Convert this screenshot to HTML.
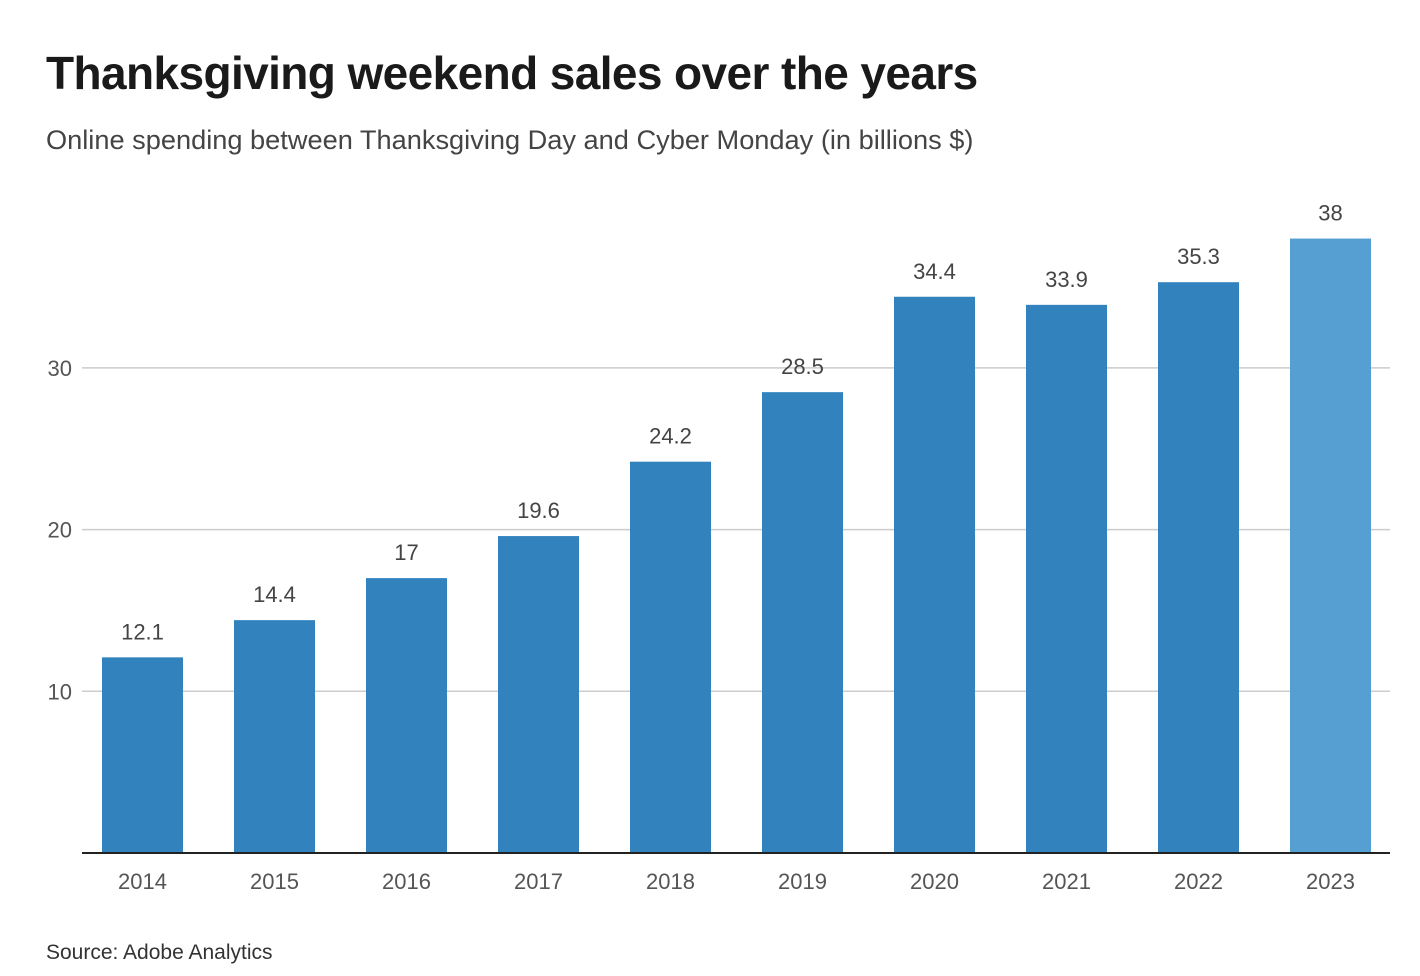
<!DOCTYPE html>
<html><head><meta charset="utf-8"><style>
body{margin:0;background:#fff;width:1420px;height:976px;overflow:hidden;font-family:"Liberation Sans",sans-serif}
#title{position:absolute;left:46px;top:46px;font-size:46px;font-weight:bold;color:#1a1a1a;letter-spacing:-0.6px}
#sub{position:absolute;left:46px;top:124px;font-size:27.2px;color:#444}
#src{position:absolute;left:46px;top:941px;font-size:21px;color:#333}
svg{position:absolute;left:0;top:0}
</style></head><body>
<div id="title">Thanksgiving weekend sales over the years</div>
<div id="sub">Online spending between Thanksgiving Day and Cyber Monday (in billions $)</div>
<div id="src">Source: Adobe Analytics</div>
<svg id="chart" width="1420" height="976"></svg>
<script>
const categories=["2014","2015","2016","2017","2018","2019","2020","2021","2022","2023"];
const values=[12.1,14.4,17,19.6,24.2,28.5,34.4,33.9,35.3,38];
const labels=["12.1","14.4","17","19.6","24.2","28.5","34.4","33.9","35.3","38"];
const yTicks=[10,20,30];
const NS="http://www.w3.org/2000/svg";
const svg=document.getElementById('chart');
const y=v=>853-v*16.17;
const x=i=>102+i*132;
const bw=81;
function mk(t,a,p){const e=document.createElementNS(NS,t);for(const k in a)e.setAttribute(k,a[k]);(p||svg).appendChild(e);return e;}
yTicks.forEach(t=>{
 const g=mk('line',{x1:82,x2:1390,y1:y(t),y2:y(t),stroke:'#ccc','stroke-width':1.5});
 
 
 const l=mk('text',{x:72,y:y(t)+8,'text-anchor':'end','font-size':22,fill:'#555','font-family':'Liberation Sans, sans-serif'});
 l.textContent=t;
 
 
});
values.forEach((v,i)=>{
 const r=mk('rect',{x:x(i),y:y(v),width:bw,height:853-y(v),fill:i===values.length-1?'#559fd3':'#3182bd'});
 
 
 const t=mk('text',{x:x(i)+bw/2,y:y(v)-18,'text-anchor':'middle','font-size':22,fill:'#444','font-family':'Liberation Sans, sans-serif'});
 t.textContent=labels[i];
 
 
 const c=mk('text',{x:x(i)+bw/2,y:889,'text-anchor':'middle','font-size':22,fill:'#555','font-family':'Liberation Sans, sans-serif'});
 c.textContent=categories[i];
 
 
});
const ax=mk('line',{x1:82,x2:1390,y1:853,y2:853,stroke:'#222','stroke-width':2});


</script>
</body></html>
